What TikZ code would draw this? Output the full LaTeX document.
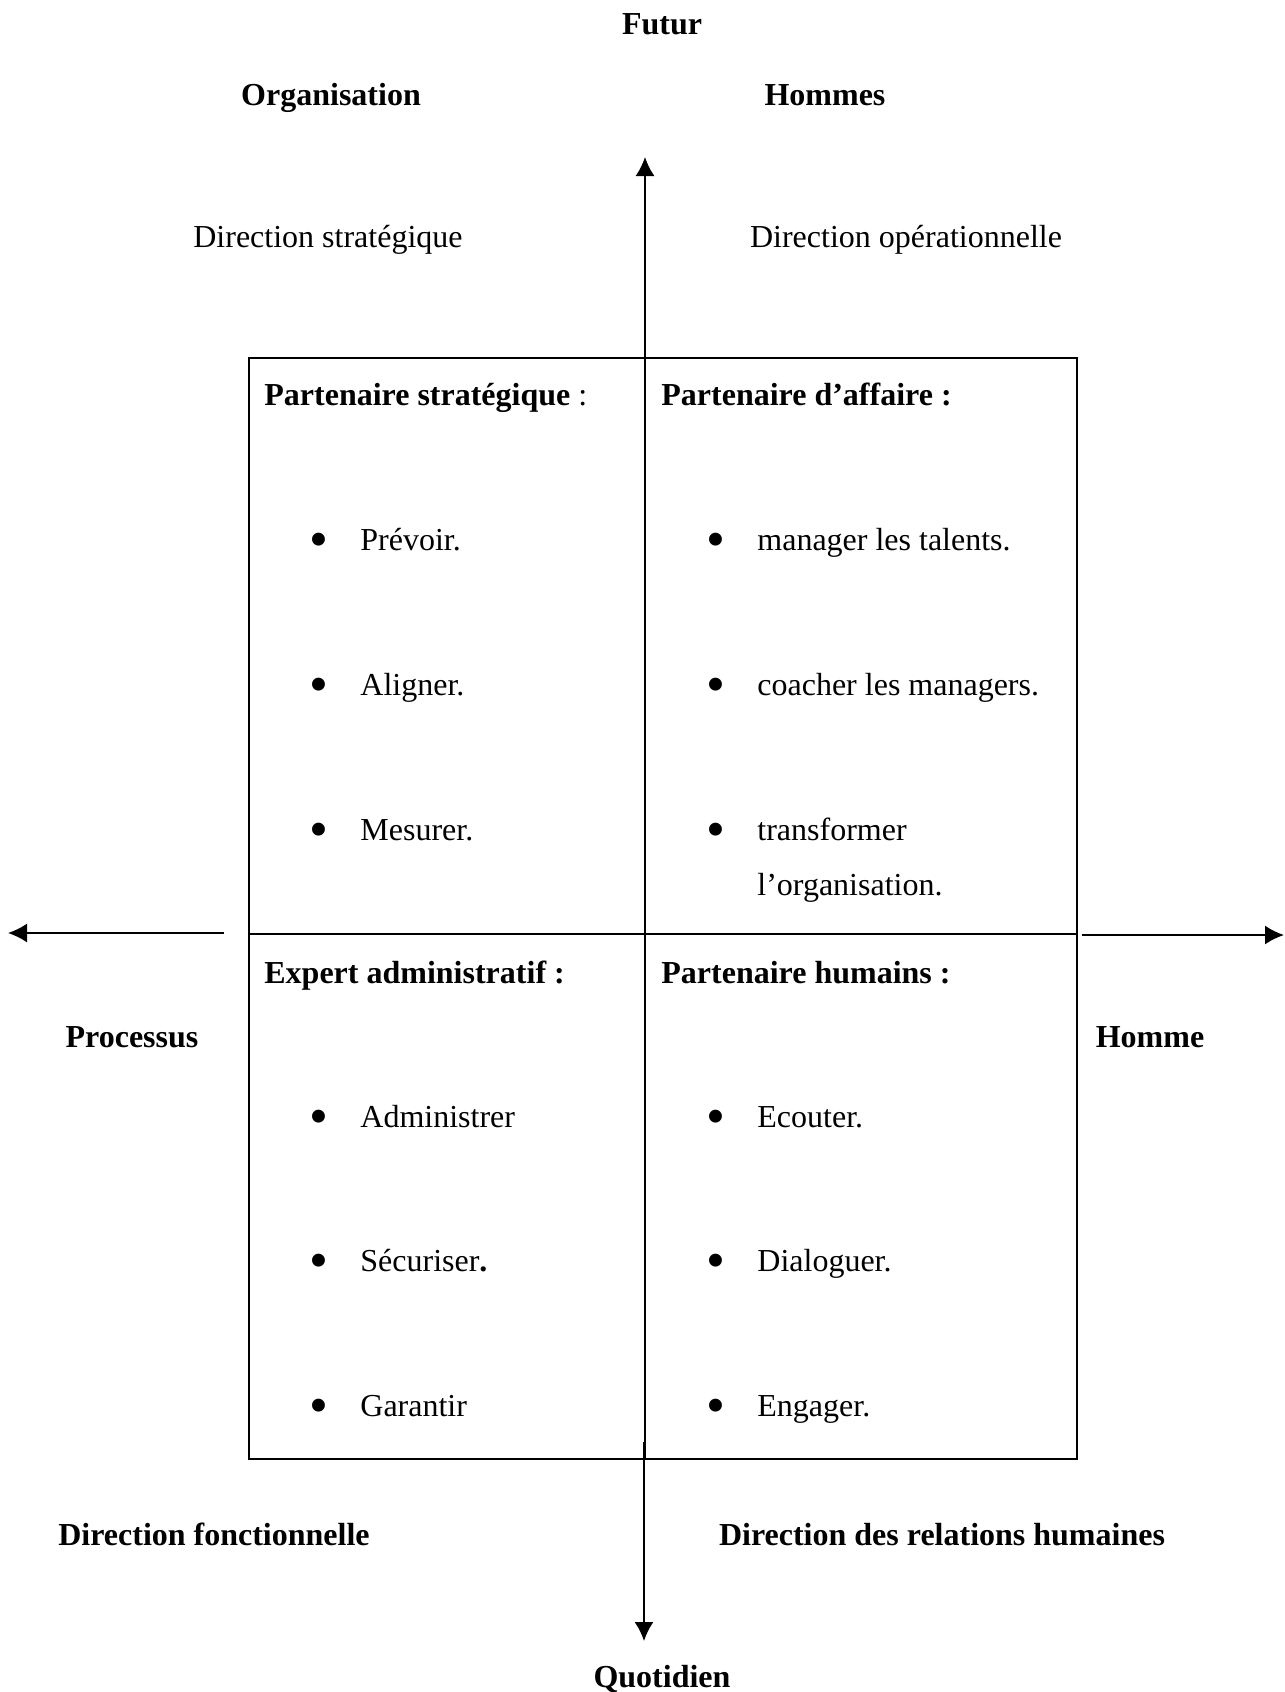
\documentclass[tikz,border=0pt]{standalone}
\usepackage{fontspec}
\setmainfont{Liberation Serif}
\usetikzlibrary{arrows.meta}
\begin{document}
\begin{tikzpicture}[x=0.5pt,y=-0.5pt,
  txt/.style={inner sep=0pt,anchor=base,yshift=-5.5pt,font=\fontsize{16}{19}\selectfont},
  btxt/.style={txt,font=\fontsize{16}{19}\selectfont\bfseries},
  lt/.style={txt,anchor=base west},
  blt/.style={btxt,anchor=base west},
  bul/.style={inner sep=0pt,anchor=center,yshift=-3pt,font=\fontsize{27}{30}\selectfont},
  frame/.style={line width=0.7pt},
  axis/.style={line width=0.9pt,-{Latex[length=9.5pt,width=9.5pt]}}]
\useasboundingbox (0,0) rectangle (1285,1692);
% box
\draw[frame] (249,358) rectangle (1077,1459);
\draw[frame] (249,934) -- (1077,934);
\draw[frame] (645,358) -- (645,1459);
% axes
\coordinate (ut) at (645,358);
\coordinate (uh) at (645,157);
\coordinate (ds) at (644,1442);
\coordinate (dh) at (644,1641);
\coordinate (ls) at (224,933);
\coordinate (lh) at (8,933);
\coordinate (rs) at (1082,935);
\coordinate (rh) at (1284,935);
\draw[axis] (ut) -- (uh);
\draw[axis] (ds) -- (dh);
\draw[axis] (ls) -- (lh);
\draw[axis] (rs) -- (rh);
% outer labels
\node[btxt] (futur) at (662,23) {Futur};
\node[btxt] (org) at (331,94) {Organisation};
\node[btxt] (hommes) at (825,94) {Hommes};
\node[txt] (dstrat) at (328,236) {Direction stratégique};
\node[txt] (dop) at (906,236) {Direction opérationnelle};
\node[btxt] (proc) at (132,1036) {Processus};
\node[btxt] (homme) at (1150,1036) {Homme};
\node[btxt] (dfonc) at (214,1534) {Direction fonctionnelle};
\node[btxt] (drh) at (942,1534) {Direction des relations humaines};
\node[btxt] (quot) at (662,1676) {Quotidien};
% quadrant headers
\node[lt] (h1) at (264,394) {\textbf{Partenaire stratégique} :};
\node[blt] (h2) at (661,394) {Partenaire d’affaire :};
\node[blt] (h3) at (264,972) {Expert administratif :};
\node[blt] (h4) at (661,972) {Partenaire humains :};
% top-left bullets
\node[bul] (b11) at (319,539) {\textbullet};
\node[lt] (t11) at (360,539) {Prévoir.};
\node[bul] (b12) at (319,684) {\textbullet};
\node[lt] (t12) at (360,684) {Aligner.};
\node[bul] (b13) at (319,829) {\textbullet};
\node[lt] (t13) at (360,829) {Mesurer.};
% top-right bullets
\node[bul] (b21) at (716,539) {\textbullet};
\node[lt] (t21) at (757,539) {manager les talents.};
\node[bul] (b22) at (716,684) {\textbullet};
\node[lt] (t22) at (757,684) {coacher les managers.};
\node[bul] (b23) at (716,829) {\textbullet};
\node[lt] (t23) at (757,829) {transformer};
\node[lt] (t24) at (757,884) {l’organisation.};
% bottom-left bullets
\node[bul] (b31) at (319,1116) {\textbullet};
\node[lt] (t31) at (360,1116) {Administrer};
\node[bul] (b32) at (319,1260) {\textbullet};
\node[lt] (t32) at (360,1260) {Sécuriser\textbf{.}};
\node[bul] (b33) at (319,1405) {\textbullet};
\node[lt] (t33) at (360,1405) {Garantir};
% bottom-right bullets
\node[bul] (b41) at (716,1116) {\textbullet};
\node[lt] (t41) at (757,1116) {Ecouter.};
\node[bul] (b42) at (716,1260) {\textbullet};
\node[lt] (t42) at (757,1260) {Dialoguer.};
\node[bul] (b43) at (716,1405) {\textbullet};
\node[lt] (t43) at (757,1405) {Engager.};
\end{tikzpicture}
\end{document}
